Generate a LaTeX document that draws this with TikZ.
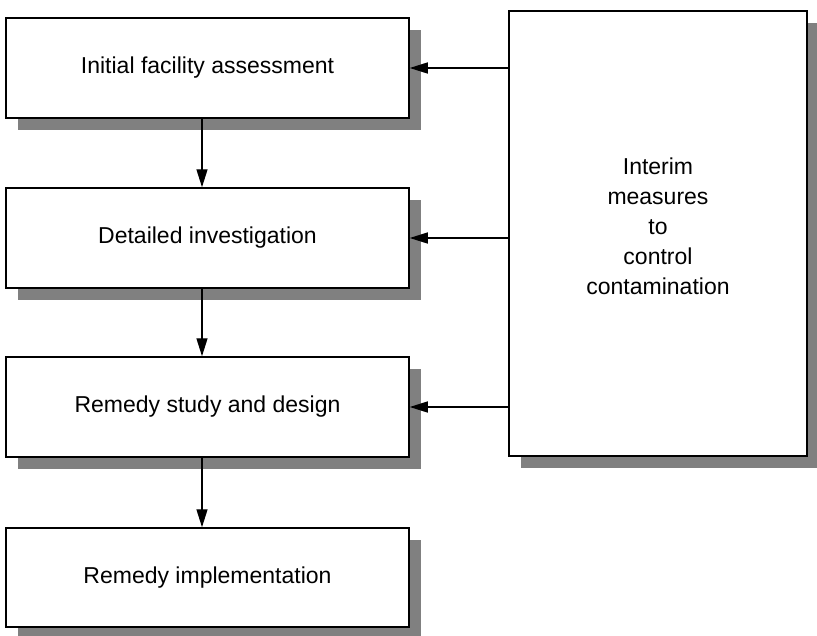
\documentclass[tikz,border=0pt]{standalone}
\usepackage{fontspec}
\setmainfont{Liberation Sans}
\usetikzlibrary{arrows.meta,shadows}
\begin{document}
\begin{tikzpicture}[x=1pt,y=-1pt,
  box/.style={draw=black, line width=1.5pt, fill=white, inner sep=0pt,
    drop shadow={shadow xshift=11.5pt, shadow yshift=-11.5pt, fill=black!50, opacity=1},
    font=\fontsize{23}{30}\selectfont, align=center},
  leftbox/.style={box, minimum width=403pt, minimum height=100pt},
  conn/.style={line width=1.4pt, -{Triangle[length=18pt,width=11pt]}}
]
\useasboundingbox (0,0) rectangle (817,635);
\node[leftbox] (a) at (207.5,68) {Initial facility assessment};
\node[leftbox] (b) at (207.5,238) {Detailed investigation};
\node[leftbox] (c) at (207.5,407) {Remedy study and design};
\node[leftbox, minimum height=99pt] (d) at (207.5,577.5) {Remedy implementation};
\node[box, minimum width=298pt, minimum height=445pt] (r) at (658,233.5) {};
\node[font=\fontsize{23}{30}\selectfont, align=center, inner sep=0pt] (rt) at (658,226)
  {Interim\\measures\\to\\control\\contamination};
\draw[conn] ([xshift=-5.5pt]a.south) -- ([xshift=-5.5pt]b.north);
\draw[conn] ([xshift=-5.5pt]b.south) -- ([xshift=-5.5pt]c.north);
\draw[conn] ([xshift=-5.5pt]c.south) -- ([xshift=-5.5pt]d.north);
\draw[conn] (r.west |- a.east) -- (a.east);
\draw[conn] (r.west |- b.east) -- (b.east);
\draw[conn] (r.west |- c.east) -- (c.east);
\end{tikzpicture}
\end{document}
